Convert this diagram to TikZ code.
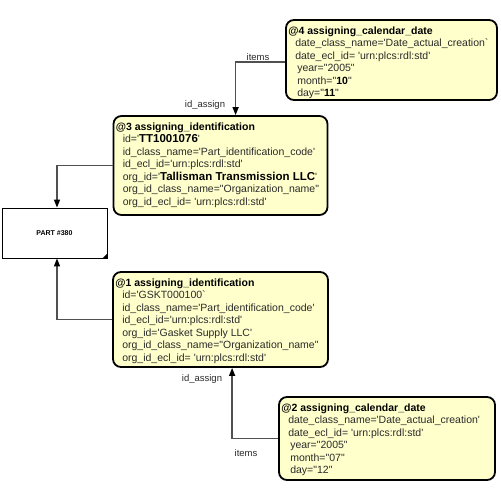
\documentclass[tikz,border=0pt]{standalone}
\usepackage{fontspec}
\newfontfamily\lsans{Liberation Sans}
\usetikzlibrary{arrows.meta,calc}
\definecolor{boxfill}{HTML}{FFFFCC}
\definecolor{conn}{HTML}{505050}
\definecolor{bodytxt}{HTML}{2A2A2A}
\tikzset{
  entbox/.style={draw=black,line width=1.8pt,rounded corners=8pt,fill=boxfill,inner sep=0pt},
  enttext/.style={anchor=north west,inner sep=0pt,align=left,font=\lsans\fontsize{10.5}{12.5}\selectfont,text=bodytxt},
  partbox/.style={draw=black,line width=0.8pt,fill=white,inner sep=0pt},
  connector/.style={draw=conn,line width=1.4pt,-{Triangle[width=6pt,length=8pt,fill=black,color=black]}},
  lbl/.style={inner sep=0pt,font=\lsans\fontsize{9.5}{11}\selectfont,text=bodytxt}
}
\newcommand{\ttl}[1]{{\bfseries\color{black}#1}}
\newcommand{\bv}[1]{{\bfseries\color{black}#1}}
\begin{document}
\begin{tikzpicture}[x=1pt,y=-1pt]
\useasboundingbox (0,0) rectangle (501,501);
% boxes
\node[entbox,minimum width=211pt,minimum height=80pt] (b4) at (391.5,60) {};
\node[entbox,minimum width=214pt,minimum height=99pt] (b3) at (220.5,165.5) {};
\node[entbox,minimum width=215pt,minimum height=95pt] (b1) at (220.5,319.5) {};
\node[entbox,minimum width=216pt,minimum height=83pt] (b2) at (387,438.5) {};
\node[partbox,minimum width=105pt,minimum height=50pt] (p) at (54.5,233) {};
\fill[black] ($(p.south east)+(-0.4,0.4)$) -- ++(0,-5) -- ++(-5,5) -- cycle;
\node[inner sep=0pt,font=\lsans\bfseries\fontsize{7}{8}\selectfont] (pt) at (p.center) {PART \#380};
% texts
\node[enttext] (t4) at ($(b4.north west)+(3,7.5)$) {\ttl{@4 assigning\_calendar\_date}\\
\hspace{7pt}date\_class\_name='Date\_actual\_creation`\\
\hspace{7pt}date\_ecl\_id= 'urn:plcs:rdl:std'\\
\hspace{9pt}year="2005"\\
\hspace{9pt}month="\bv{10}"\\
\hspace{9pt}day="\bv{11}"};
\node[enttext] (t3) at ($(b3.north west)+(3,7.5)$) {\ttl{@3 assigning\_identification}\\
\hspace{7pt}id='\bv{\fontsize{11.5}{12.5}\selectfont TT1001076}'\\
\hspace{7pt}id\_class\_name='Part\_identification\_code'\\
\hspace{7pt}id\_ecl\_id='urn:plcs:rdl:std'\\
\hspace{7pt}org\_id='\bv{\fontsize{11.5}{12.5}\selectfont Tallisman Transmission LLC}'\\
\hspace{7pt}org\_id\_class\_name="Organization\_name"\\
\hspace{7pt}org\_id\_ecl\_id= 'urn:plcs:rdl:std'};
\node[enttext] (t1) at ($(b1.north west)+(3,7.5)$) {\ttl{@1 assigning\_identification}\\
\hspace{7pt}id='GSKT000100`\\
\hspace{7pt}id\_class\_name='Part\_identification\_code'\\
\hspace{7pt}id\_ecl\_id='urn:plcs:rdl:std'\\
\hspace{7pt}org\_id='Gasket Supply LLC'\\
\hspace{7pt}org\_id\_class\_name="Organization\_name"\\
\hspace{7pt}org\_id\_ecl\_id= 'urn:plcs:rdl:std'};
\node[enttext] (t2) at ($(b2.north west)+(3,7.5)$) {\ttl{@2 assigning\_calendar\_date}\\
\hspace{7pt}date\_class\_name='Date\_actual\_creation'\\
\hspace{7pt}date\_ecl\_id= 'urn:plcs:rdl:std'\\
\hspace{9pt}year="2005"\\
\hspace{9pt}month="07"\\
\hspace{9pt}day="12"};
% connectors
\draw[connector] ($(b4.west)+(0,2)$) -| ($(b3.north west)+(123,0)$);
\draw[connector] (b3.west) -| ($(p.north)+(2.5,0)$);
\draw[connector] (b1.west) -| ($(p.south)+(2.5,0)$);
\draw[connector] (b2.west) -| ($(b1.south west)+(120,0)$);
% labels
\node[lbl] (l1) at (258,57) {items};
\node[lbl] (l2) at (205,105) {id\_assign};
\node[lbl] (l3) at (202,379) {id\_assign};
\node[lbl] (l4) at (246,453) {items};
\end{tikzpicture}
\end{document}
